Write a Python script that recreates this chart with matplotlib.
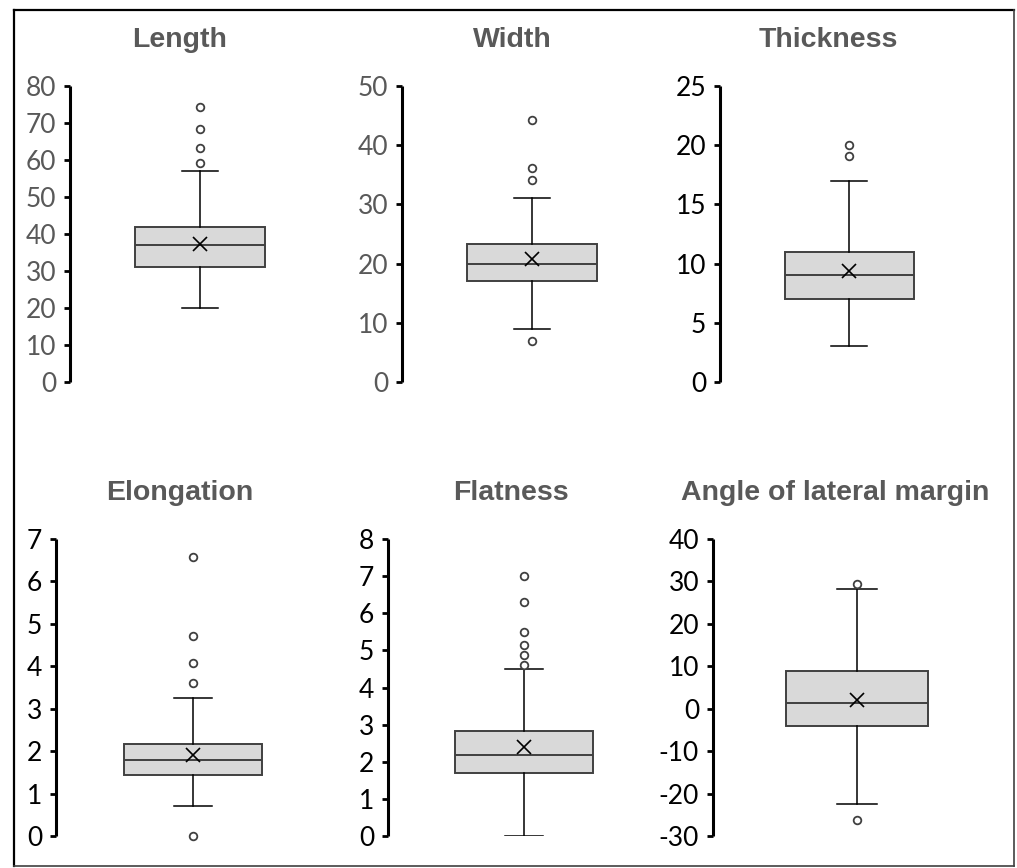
import matplotlib.pyplot as plt
from matplotlib.lines import Line2D

plt.rcParams['axes.unicode_minus'] = False

# summary values (one entry per panel)
titles = ['Length', 'Width', 'Thickness', 'Elongation', 'Flatness', 'Angle of lateral margin']
whislo = [20, 9, 3, 0.70, 0.0, -22.5]
q1 = [31, 17, 7, 1.44, 1.69, -4.0]
med = [37, 20, 9, 1.79, 2.19, 1.4]
q3 = [42, 23.3, 11, 2.17, 2.83, 9.0]
whishi = [57, 31, 17, 3.25, 4.50, 28.2]
means = [37.4, 20.7, 9.4, 1.91, 2.40, 2.1]
fliers = [
    [59.3, 63.3, 68.3, 74.3],
    [44.3, 36.2, 34.2, 6.9],
    [20.0, 19.1],
    [6.57, 4.72, 4.08, 3.60, 0.0],
    [7.0, 6.29, 5.50, 5.15, 4.87, 4.61],
    [29.3, -26.3],
]
ylims = [(0, 80), (0, 50), (0, 25), (0, 7), (0, 8), (-30, 40)]
ysteps = [10, 10, 5, 1, 1, 10]
tick_colors = ['#595959', '#595959', 'black', 'black', 'black', 'black']

# layout in pixels
W, H = 1017, 868
spine_x = [70, 402, 720, 56, 388, 713]
center_x = [200, 532, 849, 193, 524, 857]
box_px = [130, 130, 129, 138, 138, 142]
top_y = [86, 86, 86, 539, 539, 539]
bot_y = [382, 382, 382, 836, 836, 836]
title_x = [180, 512, 828, 180, 511, 835]
title_y = [40, 40, 40, 493, 493, 493]

fig = plt.figure(figsize=(W / 100, H / 100), dpi=100)

for i in range(6):
    sx, cx, ty, by = spine_x[i], center_x[i], top_y[i], bot_y[i]
    ax = fig.add_axes([sx / W, 1 - by / H, 2 * (cx - sx) / W, (by - ty) / H])
    st = [dict(med=med[i], q1=q1[i], q3=q3[i], whislo=whislo[i], whishi=whishi[i],
               mean=means[i], fliers=fliers[i])]
    wd = box_px[i] / (cx - sx)
    parts = ax.bxp(st, positions=[1], widths=[wd], capwidths=[0.28 * wd], showmeans=True,
                   patch_artist=True,
                   boxprops=dict(facecolor='#d9d9d9', edgecolor='#404040', linewidth=1.4),
                   medianprops=dict(color='#404040', linewidth=1.4),
                   whiskerprops=dict(color='black', linewidth=1.1),
                   capprops=dict(color='black', linewidth=1.1),
                   meanprops=dict(marker='x', markeredgecolor='black', markersize=9.5,
                                  markeredgewidth=1.2),
                   flierprops=dict(marker='o', markerfacecolor='white', markeredgecolor='#404040',
                                   markersize=5.5, markeredgewidth=1.3))
    for fl in parts['fliers']:
        fl.set_clip_on(False)
    ax.set_xlim(0, 2)
    lo, hi = ylims[i]
    ax.set_ylim(lo, hi)
    ax.set_yticks(range(lo, hi + 1, ysteps[i]))
    ax.set_xticks([])
    for s in ['top', 'right', 'bottom']:
        ax.spines[s].set_visible(False)
    ax.spines['left'].set_linewidth(2.2)
    ax.spines['left'].set_capstyle('butt')
    ax.tick_params(axis='y', direction='out', length=4, width=2, pad=6,
                   labelsize=19, labelcolor=tick_colors[i])
    for lab in ax.get_yticklabels():
        lab.set_family('Lato')
    ax.patch.set_visible(False)
    fig.text(title_x[i] / W, 1 - title_y[i] / H, titles[i], ha='center', va='center',
             fontsize=20.5, fontweight='bold', color='#595959', family='Liberation Sans')

# frame around the whole picture
fig.add_artist(Line2D([14 / W, 1014 / W], [1 - 10 / H, 1 - 10 / H], color='black', lw=1.6))
fig.add_artist(Line2D([14 / W, 14 / W], [1 - 10 / H, 1 - 866 / H], color='black', lw=1.6))
fig.add_artist(Line2D([1014 / W, 1014 / W], [1 - 10 / H, 1 - 866 / H], color='#404040', lw=1.2))
fig.add_artist(Line2D([14 / W, 1014 / W], [1 - 866 / H, 1 - 866 / H], color='#404040', lw=1.2))

fig.savefig('out.png', dpi=100)
